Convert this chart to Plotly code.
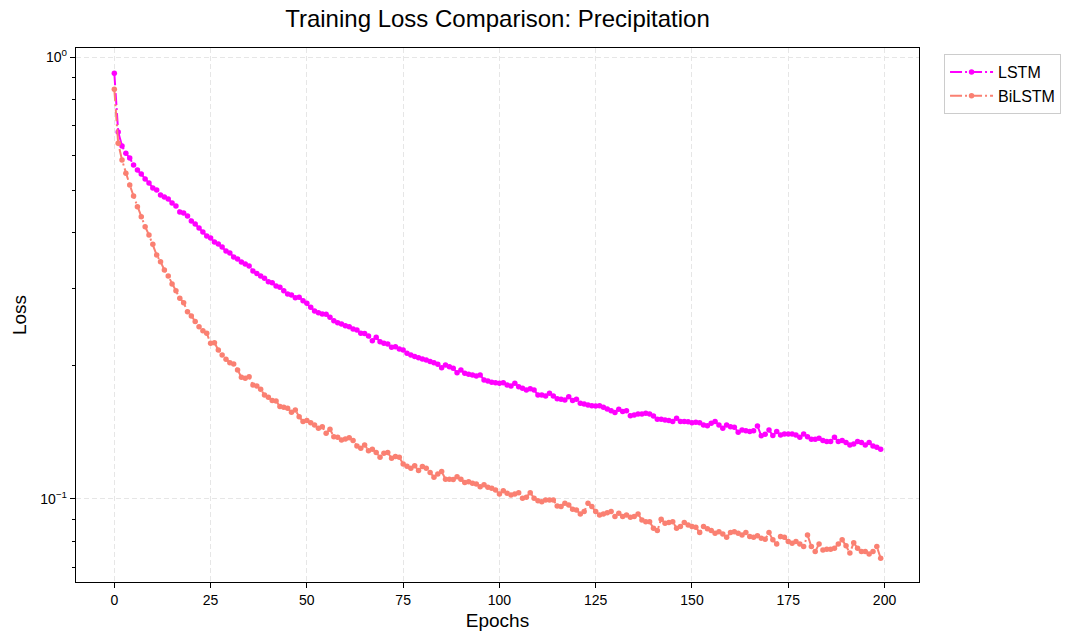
import plotly.graph_objects as go

epochs = list(range(200))

lstm_loss = [
    0.919, 0.677, 0.629, 0.6055, 0.5909, 0.5697, 0.5550, 0.5436, 0.5296, 0.5187,
    0.5054, 0.5002, 0.4873, 0.4822, 0.4772, 0.4674, 0.4602, 0.4460, 0.4437, 0.4368,
    0.4256, 0.4190, 0.4103, 0.4018, 0.3936, 0.3895, 0.3814, 0.3775, 0.3716, 0.3640,
    0.3602, 0.3528, 0.3491, 0.3437, 0.3401, 0.3366, 0.3280, 0.3237, 0.3195, 0.3157,
    0.3102, 0.3086, 0.3033, 0.3013, 0.2960, 0.2909, 0.2894, 0.2854, 0.2860, 0.2810,
    0.2772, 0.2715, 0.2663, 0.2639, 0.2622, 0.2618, 0.2577, 0.2531, 0.2505, 0.2488,
    0.2466, 0.2454, 0.2424, 0.2412, 0.2371, 0.2369, 0.2337, 0.2281, 0.2322, 0.2269,
    0.2250, 0.2242, 0.2204, 0.2211, 0.2185, 0.2173, 0.2136, 0.2118, 0.2099, 0.2088,
    0.2074, 0.2063, 0.2045, 0.2034, 0.2017, 0.1982, 0.2010, 0.1992, 0.1976, 0.1931,
    0.1958, 0.1925, 0.1915, 0.1908, 0.1898, 0.1908, 0.1859, 0.1849, 0.1837, 0.1833,
    0.1827, 0.1833, 0.1811, 0.1802, 0.1827, 0.1795, 0.1780, 0.1764, 0.1776, 0.1764,
    0.1719, 0.1719, 0.1710, 0.1734, 0.1710, 0.1686, 0.1681, 0.1675, 0.1704, 0.1669,
    0.1681, 0.1646, 0.1640, 0.1632, 0.1626, 0.1623, 0.1626, 0.1612, 0.1598, 0.1584,
    0.1568, 0.1596, 0.1576, 0.1584, 0.1543, 0.1549, 0.1557, 0.1557, 0.1563, 0.1557,
    0.1541, 0.1515, 0.1515, 0.1509, 0.1504, 0.1496, 0.1523, 0.1496, 0.1496, 0.1495,
    0.1488, 0.1491, 0.1488, 0.1470, 0.1464, 0.1483, 0.1496, 0.1470, 0.1445, 0.1470,
    0.1457, 0.1453, 0.1415, 0.1432, 0.1427, 0.1420, 0.1427, 0.1463, 0.1389, 0.1401,
    0.1432, 0.1391, 0.1420, 0.1396, 0.1403, 0.1403, 0.1402, 0.1396, 0.1379, 0.1403,
    0.1383, 0.1365, 0.1365, 0.1372, 0.1355, 0.1348, 0.1348, 0.1379, 0.1348, 0.1355,
    0.1341, 0.1325, 0.1332, 0.1348, 0.1341, 0.1325, 0.1341, 0.1318, 0.1309, 0.1295,
]

bilstm_loss = [
    0.8451, 0.6379, 0.5847, 0.5456, 0.5134, 0.4848, 0.4585, 0.4352, 0.4131, 0.3956,
    0.3769, 0.3565, 0.3443, 0.3297, 0.3195, 0.3065, 0.2960, 0.2845, 0.2781, 0.2653,
    0.2594, 0.2519, 0.2454, 0.2403, 0.2371, 0.2250, 0.2257, 0.2173, 0.2118, 0.2071,
    0.2034, 0.2020, 0.1958, 0.1885, 0.1875, 0.1891, 0.1811, 0.1802, 0.1771, 0.1719,
    0.1699, 0.1669, 0.1666, 0.1618, 0.1612, 0.1604, 0.1571, 0.1590, 0.1535, 0.1496,
    0.1504, 0.1488, 0.1470, 0.1445, 0.1457, 0.1408, 0.1438, 0.1383, 0.1379, 0.1360,
    0.1367, 0.1376, 0.1355, 0.1318, 0.1302, 0.1325, 0.1286, 0.1295, 0.1273, 0.1243,
    0.1269, 0.1273, 0.1236, 0.1247, 0.1243, 0.1200, 0.1186, 0.1173, 0.1188, 0.1159,
    0.1184, 0.1173, 0.1147, 0.1120, 0.1139, 0.1153, 0.1108, 0.1108, 0.1107, 0.1123,
    0.1108, 0.1089, 0.1094, 0.1085, 0.1081, 0.1066, 0.1076, 0.1063, 0.1057, 0.1048,
    0.1026, 0.1044, 0.1030, 0.1021, 0.1026, 0.1033, 0.1004, 0.1009, 0.1033, 0.1004,
    0.0991, 0.0986, 0.0995, 0.0995, 0.0994, 0.0964, 0.0961, 0.0978, 0.0969, 0.0948,
    0.0944, 0.0925, 0.0936, 0.0978, 0.0961, 0.0936, 0.0920, 0.0925, 0.0931, 0.0936,
    0.0912, 0.0928, 0.0912, 0.0920, 0.0909, 0.0912, 0.0925, 0.0896, 0.0888, 0.0888,
    0.0858, 0.0848, 0.0899, 0.0881, 0.0884, 0.0888, 0.0858, 0.0866, 0.0884, 0.0873,
    0.0866, 0.0863, 0.0839, 0.0866, 0.0856, 0.0848, 0.0836, 0.0843, 0.0833, 0.0819,
    0.0839, 0.0843, 0.0836, 0.0829, 0.0839, 0.0822, 0.0819, 0.0825, 0.0815, 0.0811,
    0.0839, 0.0808, 0.0791, 0.0822, 0.0819, 0.0801, 0.0794, 0.0801, 0.0791, 0.0780,
    0.0829, 0.0780, 0.0760, 0.0791, 0.0766, 0.0769, 0.0769, 0.0773, 0.0791, 0.0808,
    0.0783, 0.0754, 0.0796, 0.0773, 0.0760, 0.0760, 0.0751, 0.0760, 0.0780, 0.0734,
]

series_names = ["LSTM", "BiLSTM"]
series_colors = ["#FF00FF", "#FA8072"]

x_ticks = [0, 25, 50, 75, 100, 125, 150, 175, 200]
y_ticks = [0.1, 1.0]
y_tick_text = ["10<sup>\u22121</sup>", "10<sup>0</sup>"]
y_minor = [0.07, 0.08, 0.09, 0.2, 0.3, 0.4, 0.5, 0.6, 0.7, 0.8, 0.9]

FONT = "Liberation Sans, Arial, Helvetica, sans-serif"

fig = go.Figure()
for name, vals, col in zip(series_names, [lstm_loss, bilstm_loss], series_colors):
    fig.add_trace(go.Scatter(
        x=epochs, y=vals, name=name, mode="lines+markers",
        line=dict(color=col, width=2, dash="12px,3px,2px,3px"),
        marker=dict(color=col, size=5.5),
    ))

fig.update_layout(
    width=1066, height=637,
    margin=dict(l=76, r=147, t=48, b=55, autoexpand=False),
    paper_bgcolor="white", plot_bgcolor="white",
    font=dict(family=FONT, color="black", size=14),
    title=dict(text="Training Loss Comparison: Precipitation", x=0.4667, xanchor="center",
               y=1 - 19 / 637, yref="container", yanchor="middle",
               font=dict(size=24, family=FONT, color="black")),
    showlegend=True,
    legend=dict(x=1.0297, y=0.9885, xanchor="left", yanchor="top",
                bordercolor="#cccccc", borderwidth=1, bgcolor="white",
                font=dict(size=16, family=FONT), itemwidth=43),
)

fig.update_xaxes(
    range=[-9.95, 208.95], tickvals=x_ticks, ticks="outside", ticklen=5,
    tickwidth=1.2, tickcolor="black", showline=True, linecolor="black", linewidth=1.25,
    mirror=True, showgrid=True, gridcolor="#e6e6e6", griddash="5px,3px", gridwidth=1,
    zeroline=False, tickfont=dict(size=14),
    title=dict(text="Epochs", font=dict(size=19), standoff=6),
)

fig.update_yaxes(
    type="log", range=[-1.188, 0.0204], tickvals=y_ticks, ticktext=y_tick_text,
    ticks="outside", ticklen=5, tickwidth=1.2, tickcolor="black",
    showline=True, linecolor="black", linewidth=1.25, mirror=True,
    showgrid=True, gridcolor="#e6e6e6", griddash="5px,3px", gridwidth=1,
    zeroline=False, tickfont=dict(size=14),
    minor=dict(tickmode="array", tickvals=y_minor, ticks="outside", ticklen=3,
               tickcolor="black", tickwidth=1, showgrid=False),
    title=dict(text="Loss", font=dict(size=19), standoff=8),
)

fig.write_html("out.html", config={"displayModeBar": False},
               post_script="document.body.style.margin='0';document.body.style.padding='0';")
